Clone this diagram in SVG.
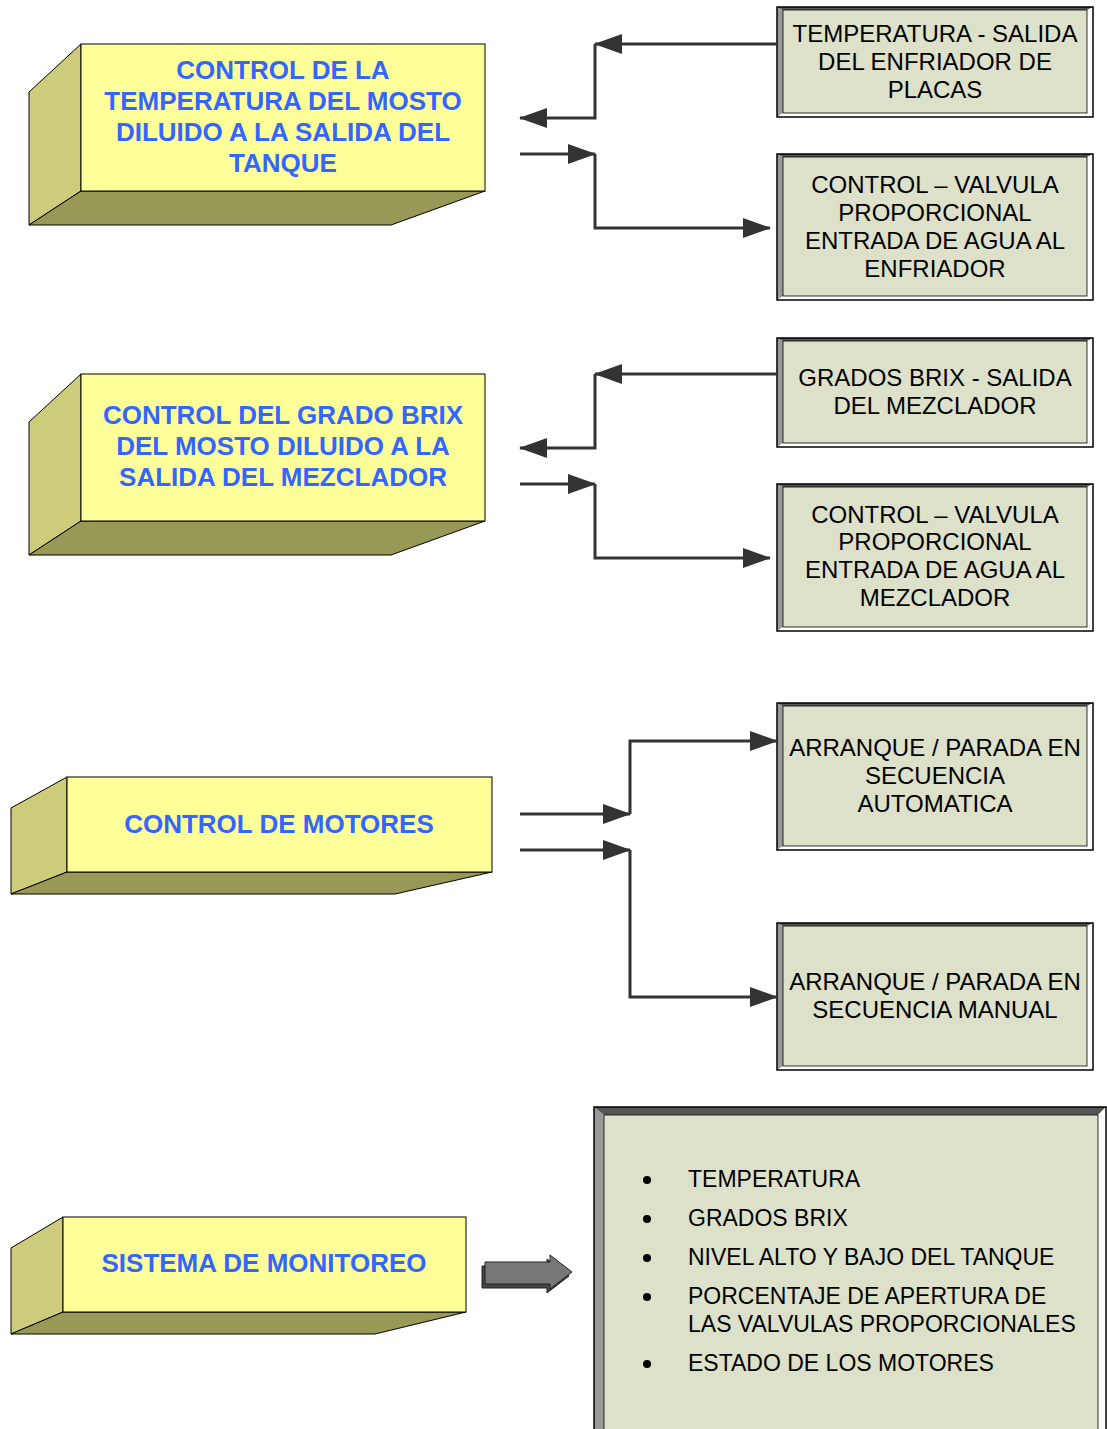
<svg xmlns="http://www.w3.org/2000/svg" width="1107" height="1429" viewBox="0 0 1107 1429">
<style>
.front{fill:#FFFF99;stroke:#000;stroke-width:1}
.side{fill:#CCCC7A;stroke:#000;stroke-width:1}
.bottom{fill:#999957;stroke:#000;stroke-width:1}
.bt{font-family:"Comic Sans MS","Liberation Sans",sans-serif;font-weight:bold;font-size:26px;fill:#3366FF;text-anchor:middle}
.kt{font-family:"Comic Sans MS","Liberation Sans",sans-serif;font-size:24px;fill:#000;text-anchor:middle}
.lt{font-family:"Comic Sans MS","Liberation Sans",sans-serif;font-size:23px;fill:#000}
.bg{fill:#DDE1C9}
.bt1{fill:#555}
.bl{fill:#999}
.bw{fill:#fff}
.ol{fill:none;stroke:#000;stroke-width:1.5}
.il{fill:none;stroke:#000;stroke-width:0.8}
.con{fill:none;stroke:#333;stroke-width:3;marker-end:url(#ah)}
</style>
<defs>
<marker id="ah" markerUnits="userSpaceOnUse" markerWidth="28" markerHeight="20" refX="27" refY="10" orient="auto">
<path d="M0,0 L28,10 L0,20 z" fill="#333"/>
</marker>
</defs>

<g id="node-temp">
<polygon class="side" points="29,92 81,44 81,191 29,225"/>
<polygon class="bottom" points="29,225 81,191 485,191 391,225"/>
<rect class="front" x="81" y="44" width="404" height="147"/>
<text class="bt" x="283" y="79">CONTROL DE LA</text>
<text class="bt" x="283" y="110">TEMPERATURA DEL MOSTO</text>
<text class="bt" x="283" y="141">DILUIDO A LA SALIDA DEL</text>
<text class="bt" x="283" y="172">TANQUE</text>
</g>

<g id="node-brix">
<polygon class="side" points="29,422 81,374 81,521 29,555"/>
<polygon class="bottom" points="29,555 81,521 485,521 391,555"/>
<rect class="front" x="81" y="374" width="404" height="147"/>
<text class="bt" x="283" y="424">CONTROL DEL GRADO BRIX</text>
<text class="bt" x="283" y="455">DEL MOSTO DILUIDO A LA</text>
<text class="bt" x="283" y="486">SALIDA DEL MEZCLADOR</text>
</g>

<g id="node-motores">
<polygon class="side" points="11,808 67,777 67,872 11,894"/>
<polygon class="bottom" points="11,894 67,872 492,872 395,894"/>
<rect class="front" x="67" y="777" width="425" height="95"/>
<text class="bt" x="279" y="833">CONTROL DE MOTORES</text>
</g>

<g id="node-monitoreo">
<polygon class="side" points="11,1248 63,1217 63,1312 11,1334"/>
<polygon class="bottom" points="11,1334 63,1312 466,1312 375,1334"/>
<rect class="front" x="63" y="1217" width="403" height="95"/>
<text class="bt" x="264" y="1272">SISTEMA DE MONITOREO</text>
</g>

<g id="node-r1">
<rect class="bg" x="777" y="7" width="316" height="110"/>
<polygon class="bt1" points="777,7 1093,7 1087,10 783,10"/>
<polygon class="bl" points="777,7 783,10 783,113 777,117"/>
<polygon class="bw" points="1093,7 1093,117 1087,113 1087,10"/>
<polygon class="bw" points="777,117 1093,117 1087,113 783,113"/>
<rect class="il" x="783" y="10" width="304" height="103"/>
<rect class="ol" x="777" y="7" width="316" height="110"/>
<text class="kt" x="935" y="42">TEMPERATURA - SALIDA</text>
<text class="kt" x="935" y="70">DEL ENFRIADOR DE</text>
<text class="kt" x="935" y="98">PLACAS</text>
</g>

<g id="node-r2">
<rect class="bg" x="777" y="154" width="316" height="146"/>
<polygon class="bt1" points="777,154 1093,154 1087,157 783,157"/>
<polygon class="bl" points="777,154 783,157 783,296 777,300"/>
<polygon class="bw" points="1093,154 1093,300 1087,296 1087,157"/>
<polygon class="bw" points="777,300 1093,300 1087,296 783,296"/>
<rect class="il" x="783" y="157" width="304" height="139"/>
<rect class="ol" x="777" y="154" width="316" height="146"/>
<text class="kt" x="935" y="193">CONTROL – VALVULA</text>
<text class="kt" x="935" y="221">PROPORCIONAL</text>
<text class="kt" x="935" y="249">ENTRADA DE AGUA AL</text>
<text class="kt" x="935" y="277">ENFRIADOR</text>
</g>

<g id="node-r3">
<rect class="bg" x="777" y="338" width="316" height="109"/>
<polygon class="bt1" points="777,338 1093,338 1087,341 783,341"/>
<polygon class="bl" points="777,338 783,341 783,443 777,447"/>
<polygon class="bw" points="1093,338 1093,447 1087,443 1087,341"/>
<polygon class="bw" points="777,447 1093,447 1087,443 783,443"/>
<rect class="il" x="783" y="341" width="304" height="102"/>
<rect class="ol" x="777" y="338" width="316" height="109"/>
<text class="kt" x="935" y="386">GRADOS BRIX - SALIDA</text>
<text class="kt" x="935" y="414">DEL MEZCLADOR</text>
</g>

<g id="node-r4">
<rect class="bg" x="777" y="484" width="316" height="147"/>
<polygon class="bt1" points="777,484 1093,484 1087,487 783,487"/>
<polygon class="bl" points="777,484 783,487 783,627 777,631"/>
<polygon class="bw" points="1093,484 1093,631 1087,627 1087,487"/>
<polygon class="bw" points="777,631 1093,631 1087,627 783,627"/>
<rect class="il" x="783" y="487" width="304" height="140"/>
<rect class="ol" x="777" y="484" width="316" height="147"/>
<text class="kt" x="935" y="523">CONTROL – VALVULA</text>
<text class="kt" x="935" y="550">PROPORCIONAL</text>
<text class="kt" x="935" y="578">ENTRADA DE AGUA AL</text>
<text class="kt" x="935" y="606">MEZCLADOR</text>
</g>

<g id="node-r5">
<rect class="bg" x="777" y="703" width="316" height="147"/>
<polygon class="bt1" points="777,703 1093,703 1087,706 783,706"/>
<polygon class="bl" points="777,703 783,706 783,846 777,850"/>
<polygon class="bw" points="1093,703 1093,850 1087,846 1087,706"/>
<polygon class="bw" points="777,850 1093,850 1087,846 783,846"/>
<rect class="il" x="783" y="706" width="304" height="140"/>
<rect class="ol" x="777" y="703" width="316" height="147"/>
<text class="kt" x="935" y="756">ARRANQUE / PARADA EN</text>
<text class="kt" x="935" y="784">SECUENCIA</text>
<text class="kt" x="935" y="812">AUTOMATICA</text>
</g>

<g id="node-r6">
<rect class="bg" x="777" y="923" width="316" height="147"/>
<polygon class="bt1" points="777,923 1093,923 1087,926 783,926"/>
<polygon class="bl" points="777,923 783,926 783,1066 777,1070"/>
<polygon class="bw" points="1093,923 1093,1070 1087,1066 1087,926"/>
<polygon class="bw" points="777,1070 1093,1070 1087,1066 783,1066"/>
<rect class="il" x="783" y="926" width="304" height="140"/>
<rect class="ol" x="777" y="923" width="316" height="147"/>
<text class="kt" x="935" y="990">ARRANQUE / PARADA EN</text>
<text class="kt" x="935" y="1018">SECUENCIA MANUAL</text>
</g>

<g id="node-lista">
<rect class="bg" x="594" y="1107" width="512" height="330"/>
<polygon class="bt1" points="594,1107 1106,1107 1098,1115 604,1115"/>
<polygon class="bl" points="594,1107 604,1115 604,1437 594,1437"/>
<polygon class="bw" points="1106,1107 1106,1437 1098,1437 1098,1115"/>
<polyline class="il" points="604,1437 604,1115 1098,1115 1098,1437"/>
<polyline class="ol" points="594,1437 594,1107 1106,1107 1106,1437"/>
<circle cx="647" cy="1180" r="4" fill="#000"/>
<circle cx="647" cy="1219" r="4" fill="#000"/>
<circle cx="647" cy="1258" r="4" fill="#000"/>
<circle cx="647" cy="1297" r="4" fill="#000"/>
<circle cx="647" cy="1364" r="4" fill="#000"/>
<text class="lt" x="688" y="1187">TEMPERATURA</text>
<text class="lt" x="688" y="1226">GRADOS BRIX</text>
<text class="lt" x="688" y="1265">NIVEL ALTO Y BAJO DEL TANQUE</text>
<text class="lt" x="688" y="1304">PORCENTAJE DE APERTURA DE</text>
<text class="lt" x="688" y="1332">LAS VALVULAS PROPORCIONALES</text>
<text class="lt" x="688" y="1371">ESTADO DE LOS MOTORES</text>
</g>

<g id="block-arrow">
<polygon points="482,1266 547,1266 547,1259 569,1276 547,1293 547,1288 482,1288" fill="#444" stroke="#222" stroke-width="1"/>
<polygon points="485,1262 550,1262 550,1255 572,1272 550,1289 550,1284 485,1284" fill="#777" stroke="#222" stroke-width="1"/>
</g>

<g id="connectors">
<path class="con" d="M777,44 H595"/>
<path class="con" d="M595,44 V118 H520"/>
<path class="con" d="M520,154 H595"/>
<path class="con" d="M595,154 V228 H770"/>
<path class="con" d="M777,374 H595"/>
<path class="con" d="M595,374 V448 H520"/>
<path class="con" d="M520,484 H595"/>
<path class="con" d="M595,484 V558 H770"/>
<path class="con" d="M520,814 H630"/>
<path class="con" d="M630,814 V741 H777"/>
<path class="con" d="M520,850 H630"/>
<path class="con" d="M630,850 V997 H777"/>
</g>
</svg>
